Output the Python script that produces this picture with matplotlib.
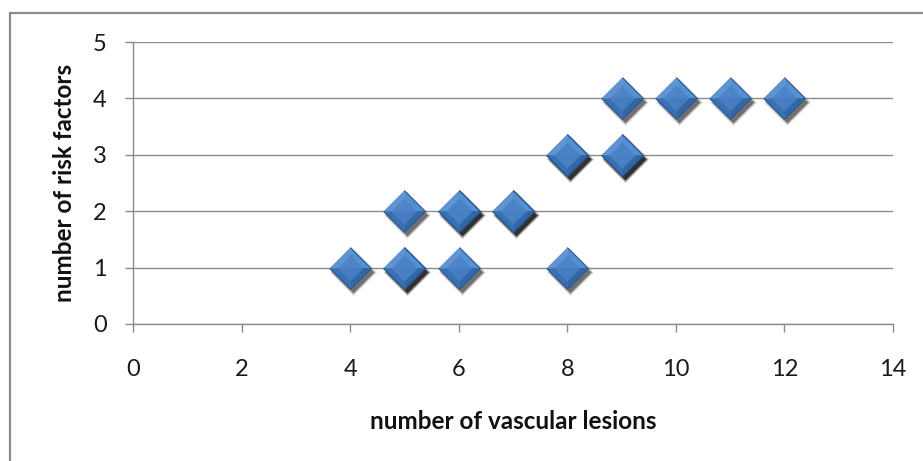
import matplotlib
matplotlib.use("Agg")
import matplotlib.pyplot as plt
from matplotlib.transforms import offset_copy
from matplotlib.patches import Rectangle

# data
lesions = [4, 5, 5, 6, 8, 5, 6, 6, 7, 7, 8, 8, 9, 9, 9, 10, 11, 12]
risk_factors = [1, 1, 1, 1, 1, 2, 2, 2, 2, 2, 3, 3, 3, 3, 4, 4, 4, 4]
x_ticks = [0, 2, 4, 6, 8, 10, 12, 14]
y_ticks = [0, 1, 2, 3, 4, 5]
x_label = "number of vascular lesions"
y_label = "number of risk factors"

plt.rcParams['font.family'] = ['Lato', 'DejaVu Sans']

fig = plt.figure(figsize=(9.23, 4.61), dpi=100)
fig.patch.set_facecolor('white')
ax = fig.add_axes([133/923, 1-324/461, (893-133)/923, (324-42)/461])

# outer frame
fig.add_artist(Rectangle((10/923, -0.1), 1.2, 1 - 13/461 + 0.1, transform=fig.transFigure,
                         fill=False, edgecolor='#8a8a8a', linewidth=1.6))

ax.set_xlim(0, 14)
ax.set_ylim(0, 5)
ax.set_xticks(x_ticks)
ax.set_yticks(y_ticks)
ax.yaxis.grid(True, color='#8c8c8c', linewidth=1.0)
ax.set_axisbelow(True)
for s in ['top', 'right']:
    ax.spines[s].set_visible(False)
for s in ['left', 'bottom']:
    ax.spines[s].set_color('#8c8c8c')
    ax.spines[s].set_linewidth(1.0)
ax.tick_params(axis='both', direction='out', length=6, width=1.0, color='#8c8c8c',
               labelsize=17, labelcolor='#1a1a1a')
ax.tick_params(axis='x', pad=19.5)
ax.tick_params(axis='y', pad=13)
ax.set_xlabel(x_label, fontsize=17.5, fontweight='bold', labelpad=21, color='#111111')
ax.set_ylabel(y_label, fontsize=17.5, fontweight='bold', labelpad=12, color='#111111')

ms = 30
# shadow (soft, stacked)
for dx, dy, a, extra in [(3, -4, 0.10, 4), (3, -4, 0.18, 2), (3, -4, 0.40, 0)]:
    tr = offset_copy(ax.transData, fig=fig, x=dx, y=dy, units='dots')
    ax.plot(lesions, risk_factors, linestyle='none',
            marker=[(0, 1), (1, 0), (0, -1), (-1, 0)], markersize=ms + extra,
            markerfacecolor='black', markeredgewidth=0, alpha=a, transform=tr, zorder=3)

# diamond body with bevel facets
facets = [
    ([(0, 0), (-1, 0), (0, 1)], '#5f93d2'),   # top-left
    ([(0, 0), (0, 1), (1, 0)], '#5690d0'),    # top-right
    ([(0, 0), (1, 0), (0, -1)], '#3266a6'),   # bottom-right
    ([(0, 0), (0, -1), (-1, 0)], '#3a70b2'),  # bottom-left
]
for verts, col in facets:
    ax.plot(lesions, risk_factors, linestyle='none', marker=verts, markersize=ms,
            markerfacecolor=col, markeredgecolor=col, markeredgewidth=0.3, zorder=4)
# inner flat face
ax.plot(lesions, risk_factors, linestyle='none',
        marker=[(0, 1), (1, 0), (0, -1), (-1, 0)], markersize=ms * 0.62,
        markerfacecolor='#4a82c6', markeredgewidth=0, alpha=0.8, zorder=5)
# outline
ax.plot(lesions, risk_factors, linestyle='none',
        marker=[(0, 1), (1, 0), (0, -1), (-1, 0)], markersize=ms,
        markerfacecolor='none', markeredgecolor='#2a5a92', markeredgewidth=0.8, zorder=6)

fig.savefig('out.png', dpi=100, facecolor='white')
